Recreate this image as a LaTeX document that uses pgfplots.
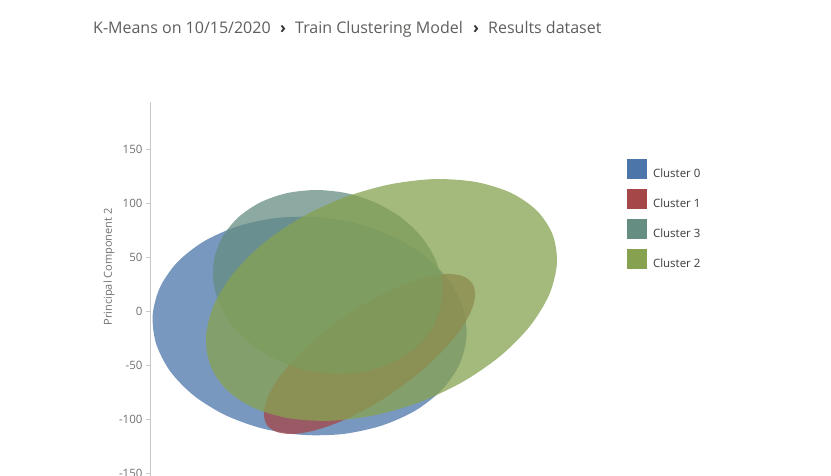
\documentclass[border=0pt]{standalone}
\usepackage{pgfplots}
\pgfplotsset{compat=1.18}
\usepackage{fontspec}
\setmainfont{Open Sans}
\definecolor{cblue}{HTML}{4C76AA}
\definecolor{cred}{HTML}{A54648}
\definecolor{cteal}{HTML}{658D82}
\definecolor{cgreen}{HTML}{86A250}
\definecolor{crumb}{HTML}{605E5C}
\definecolor{chev}{HTML}{323130}
\definecolor{tickgray}{HTML}{707070}
\definecolor{axgray}{HTML}{C8C8C8}
\definecolor{legtext}{HTML}{3A3A3A}
\begin{document}
\begin{tikzpicture}[x=1pt,y=1pt]
\useasboundingbox (-150,7.8) rectangle (681,483.8);
\node[anchor=base west, inner sep=0pt, text=crumb, font=\fontsize{16}{19}\selectfont] at (-57,450.5) {K-Means on 10/15/2020};
\node[anchor=base west, inner sep=0pt, text=chev, font=\fontsize{16}{19}\selectfont\bfseries] at (130,450.5) {›};
\node[anchor=base west, inner sep=0pt, text=crumb, font=\fontsize{16}{19}\selectfont] at (145,450.5) {Train Clustering Model};
\node[anchor=base west, inner sep=0pt, text=chev, font=\fontsize{16}{19}\selectfont\bfseries] at (323,450.5) {›};
\node[anchor=base west, inner sep=0pt, text=crumb, font=\fontsize{16}{19}\selectfont] at (338,450.5) {Results dataset};
\begin{axis}[
  scale only axis, width=450pt, height=381.8pt,
  xmin=-0.9, xmax=416.67, ymin=-160, ymax=193.5,
  axis x line=none, axis y line*=left,
  y axis line style={draw=axgray, line width=0.8pt},
  ytick={-150,-100,-50,0,50,100,150},
  tick align=outside, major tick length=4pt,
  ytick style={draw=axgray, line width=0.8pt},
  /pgf/number format/assume math mode=true,
  yticklabel style={font=\fontsize{11.5}{13}\selectfont, text=tickgray},
  ylabel={Principal Component 2},
  every axis y label/.style={at={(axis description cs:-0.0911,0.568)}, rotate=90, anchor=center, font=\fontsize{11}{13}\selectfont, text=tickgray},
  legend image code/.code={\fill[#1, fill opacity=1, draw=none] (0pt,-5.5pt) rectangle (20pt,14.5pt);},
  legend style={draw=none, fill=none, at={(rel axis cs:1.06,0.8507)}, anchor=north west,
    font=\fontsize{11.5}{13}\selectfont, text=legtext, row sep=10pt, column sep=6pt,
    inner sep=0pt, outer sep=0pt, nodes={inner sep=0pt, text depth=0pt}},
  legend cell align=left,
]
\addplot[fill=cblue, fill opacity=0.75, draw=none, smooth] coordinates {
(286.1,-49.8)
(292.8,-24.1) (289.7,2.3) (276.9,27.7) (255.2,50.1) (226.1,68.3) (191.7,80.8)
(154.3,86.9) (116.3,86.1) (80.5,78.4) (49.2,64.5) (24.6,45.3) (8.4,22.0)
(1.6,-3.7) (4.7,-30.1) (17.6,-55.5) (39.2,-77.9) (68.3,-96.1) (102.7,-108.6)
(140.2,-114.7) (178.1,-113.9) (213.9,-106.2) (245.2,-92.3) (269.8,-73.1) (286.1,-49.8)
(292.8,-24.1) (289.7,2.3)};
\addlegendentry{Cluster 0}
\addplot[fill=cred, fill opacity=0.75, draw=none, smooth] coordinates {
(300.9,14.8)
(298.0,25.9) (288.7,32.5) (273.4,34.3) (253.4,30.9) (229.9,22.8) (204.6,10.4)
(179.1,-5.5) (155.3,-23.7) (134.7,-42.9) (118.7,-62.0) (108.5,-79.5) (104.7,-94.4)
(107.6,-105.5) (116.9,-112.1) (132.2,-113.9) (152.2,-110.5) (175.7,-102.4) (201.0,-90.0)
(226.5,-74.1) (250.3,-56.0) (270.9,-36.7) (286.9,-17.6) (297.1,-0.1) (300.9,14.8)
(298.0,25.9) (288.7,32.5)};
\addlegendentry{Cluster 1}
\addplot[fill=cteal, fill opacity=0.75, draw=none, smooth] coordinates {
(260.9,-15.9)
(269.0,4.6) (269.9,26.6) (263.6,48.6) (250.5,69.2) (231.6,86.9) (208.0,100.5)
(181.4,109.1) (153.6,112.0) (126.5,109.2) (102.0,100.8) (81.7,87.3) (67.0,69.7)
(58.9,49.2) (57.9,27.2) (64.2,5.2) (77.3,-15.4) (96.3,-33.1) (119.9,-46.7)
(146.4,-55.3) (174.2,-58.2) (201.3,-55.4) (225.8,-47.0) (246.1,-33.5) (260.9,-15.9)
(269.0,4.6) (269.9,26.6)};
\addlegendentry{Cluster 3}
\addplot[fill=cgreen, fill opacity=0.75, draw=none, smooth] coordinates {
(376.7,43.8)
(372.9,70.3) (358.3,92.7) (333.8,109.5) (301.1,119.5) (262.5,122.1) (220.6,117.0)
(178.2,104.7) (138.3,85.9) (103.5,62.0) (76.2,34.5) (58.3,5.4) (51.1,-23.4)
(54.9,-49.9) (69.5,-72.3) (94.0,-89.1) (126.7,-99.1) (165.3,-101.7) (207.2,-96.6)
(249.6,-84.3) (289.5,-65.5) (324.3,-41.6) (351.6,-14.1) (369.5,15.0) (376.7,43.8)
(372.9,70.3) (358.3,92.7)};
\addlegendentry{Cluster 2}
\end{axis}
\end{tikzpicture}
\end{document}
